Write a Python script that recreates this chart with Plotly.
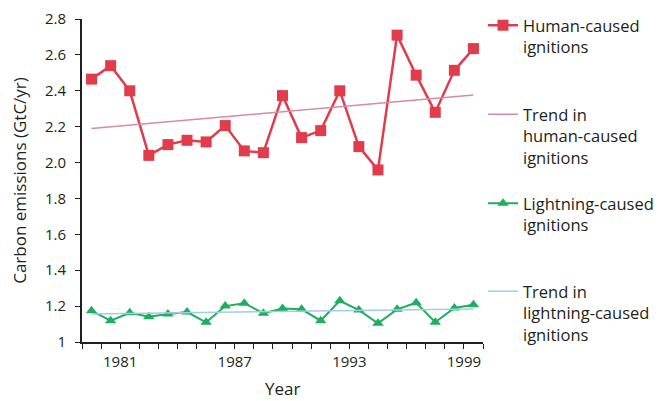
import plotly.graph_objects as go

years = list(range(1980, 2001))
human = [2.465, 2.54, 2.40, 2.04, 2.10, 2.124, 2.115, 2.206, 2.065, 2.055,
         2.373, 2.139, 2.178, 2.40, 2.089, 1.959, 2.71, 2.487, 2.28, 2.514, 2.635]
lightning = [1.174, 1.119, 1.163, 1.141, 1.156, 1.167, 1.11, 1.20, 1.216, 1.16,
             1.186, 1.182, 1.119, 1.23, 1.178, 1.104, 1.182, 1.219, 1.11, 1.19, 1.208]
trend_years = [1980, 2000]
trend_human = [2.19, 2.377]
trend_lightning = [1.156, 1.184]

x_title = "Year"
y_title = "Carbon emissions (GtC/yr)"
x_tick_labels = ["1981", "1987", "1993", "1999"]
y_tick_vals = [1.0, 1.2, 1.4, 1.6, 1.8, 2.0, 2.2, 2.4, 2.6, 2.8]
y_tick_labels = ["1", "1.2", "1.4", "1.6", "1.8", "2.0", "2.2", "2.4", "2.6", "2.8"]

names = [
    "Human-caused<br>ignitions",
    "Trend in<br>human-caused<br>ignitions",
    "Lightning-caused<br>ignitions",
    "Trend in<br>lightning-caused<br>ignitions",
]

TXT = "#231f20"
FONT = "Open Sans"
W, H = 659, 393  # page body has an 8px margin
M_L, M_R, M_T, M_B = 74, 184, 11, 59
PLOT_H = H - M_T - M_B

fig = go.Figure()
fig.add_trace(go.Scatter(
    x=years, y=human, mode="lines+markers", name=names[0], legend="legend",
    line=dict(color="#e03c4c", width=2.5),
    marker=dict(symbol="square", size=11, color="#e03c4c"),
))
fig.add_trace(go.Scatter(
    x=trend_years, y=trend_human, mode="lines", name=names[1], legend="legend2",
    line=dict(color="#d88aa6", width=1.5),
))
fig.add_trace(go.Scatter(
    x=years, y=lightning, mode="lines+markers", name=names[2], legend="legend3",
    line=dict(color="#1fae5e", width=2),
    marker=dict(symbol="triangle-up", size=10, color="#1fae5e"),
))
fig.add_trace(go.Scatter(
    x=trend_years, y=trend_lightning, mode="lines", name=names[3], legend="legend4",
    line=dict(color="#9fcdeb", width=1.5),
))

def leg(top_px):
    return dict(
        x=1.0, y=1 - top_px / H, yref="container", xanchor="left", yanchor="top",
        font=dict(family=FONT, size=16.5, color=TXT),
        valign="top", itemwidth=30, bgcolor="rgba(0,0,0,0)",
    )

fig.update_layout(
    width=W, height=H,
    showlegend=True,
    margin=dict(l=M_L, r=M_R, t=M_T, b=M_B, autoexpand=False),
    paper_bgcolor="white", plot_bgcolor="white",
    font=dict(family=FONT, size=15, color=TXT),
    legend=leg(0),
    legend2=leg(89),
    legend3=leg(178),
    legend4=leg(266),
    xaxis=dict(
        range=[years[0] - 0.5, years[-1] + 0.5],
        tickvals=[int(t) + 0.5 for t in x_tick_labels],
        ticktext=x_tick_labels,
        ticks="outside", ticklen=5, tickwidth=1.2, tickcolor=TXT,
        minor=dict(tick0=years[0] - 0.5, dtick=1, ticks="outside",
                   ticklen=5, tickwidth=1.2, tickcolor=TXT),
        showline=True, linecolor=TXT, linewidth=1.5,
        showgrid=False, zeroline=False,
        tickfont=dict(size=15, color=TXT),
    ),
    yaxis=dict(
        range=[1.0, 2.8],
        tickvals=y_tick_vals, ticktext=y_tick_labels,
        ticks="outside", ticklen=5, tickwidth=1.2, tickcolor=TXT,
        showline=True, linecolor=TXT, linewidth=2,
        showgrid=False, zeroline=False,
        tickfont=dict(size=15, color=TXT),
        ticklabelstandoff=6,
        title=dict(text=y_title, font=dict(size=17, color=TXT)),
    ),
    annotations=[dict(
        text=x_title, xref="paper", x=0.5, yref="paper",
        y=-(380 - (H - M_B)) / PLOT_H,
        xanchor="center", yanchor="middle", showarrow=False,
        font=dict(family=FONT, size=17, color=TXT),
    )],
)

fig.write_html("out.html")
